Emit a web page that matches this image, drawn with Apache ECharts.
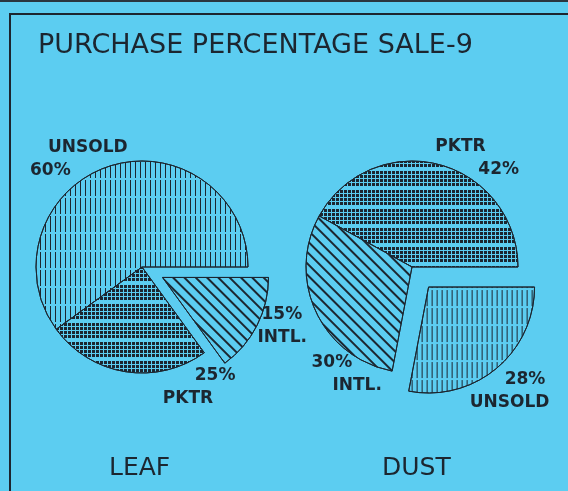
<!DOCTYPE html>
<html>
<head>
<meta charset="utf-8">
<script src="https://cdn.jsdelivr.net/npm/echarts@6/dist/echarts.min.js"></script>
<style>
  html, body { margin: 0; padding: 0; background: #5ccdf1; }
  #main { width: 568px; height: 491px; }
</style>
</head>
<body>
<div id="main"></div>
<script>
// data
var leafNames = ['UNSOLD', 'PKTR', 'INTL.'];
var leafValues = [60, 25, 15];
var dustNames = ['PKTR', 'INTL.', 'UNSOLD'];
var dustValues = [42, 30, 28];
var pieTitles = ['LEAF', 'DUST'];

var bg = '#5ccdf1';
var ink = '#1c2630';

// hatch pattern per category
var hatch = {
  'UNSOLD': { symbol: 'rect', symbolSize: 1, color: ink, dashArrayX: [1, 4], dashArrayY: [16, 2] },
  'PKTR': { symbol: 'rect', symbolSize: 1, color: ink, dashArrayX: [3, 1], dashArrayY: [3, 1, 3, 1, 3, 1, 3, 4] },
  'INTL.': { symbol: 'rect', symbolSize: 1, color: ink, dashArrayX: [1, 0], dashArrayY: [2, 6], rotation: Math.PI / 4 }
};

// label placement: [dx, dy, indent of line 1, indent of line 2], same order as the data
var leafLabelPos = [[-69, -3, 18, 0], [47, 11, 32, 0], [-12, -1, 4, 0]];
var dustLabelPos = [[-13, -2, 0, 43], [8, 60, 0, 21], [-38, 19, 35, 0]];

var labelFont = { color: ink, fontFamily: 'DejaVu Sans', fontWeight: 'bold', fontSize: 17, lineHeight: 23 };

function buildData(names, values, exploded) {
  return names.map(function (n, i) {
    return {
      name: n,
      value: values[i],
      selected: n === exploded,
      itemStyle: { color: bg, decal: hatch[n] }
    };
  });
}

function buildRich(pos) {
  var rich = {};
  pos.forEach(function (p, i) {
    rich['a' + i] = Object.assign({ padding: [0, 0, 0, p[2]] }, labelFont);
    rich['b' + i] = Object.assign({ padding: [0, 0, 0, p[3]] }, labelFont);
  });
  return rich;
}

function labelText(p) {
  var i = p.dataIndex;
  var l1 = i === 0 ? p.name : p.value + '%';
  var l2 = i === 0 ? p.value + '%' : p.name;
  return '{a' + i + '|' + l1 + '}\n{b' + i + '|' + l2 + '}';
}

function placer(pos) {
  return function (p) {
    var d = pos[p.dataIndex];
    return { dx: d[0], dy: d[1], align: 'left' };
  };
}

var chart = echarts.init(document.getElementById('main'));

var pieBase = {
  type: 'pie',
  radius: 106,
  startAngle: 0,
  clockwise: false,
  selectedMode: 'multiple',
  avoidLabelOverlap: false,
  emphasis: { disabled: true },
  itemStyle: { borderColor: ink, borderWidth: 1 },
  labelLine: { show: false, length: 4, length2: 4 }
};

var option = {
  backgroundColor: bg,
  animation: false,
  title: [
    {
      text: 'PURCHASE PERCENTAGE SALE-9',
      left: 33, top: 27,
      textStyle: { color: ink, fontFamily: 'DejaVu Sans', fontWeight: 'normal', fontSize: 27 }
    },
    {
      text: pieTitles[0],
      left: 104, top: 451,
      textStyle: { color: ink, fontFamily: 'DejaVu Sans', fontWeight: 'normal', fontSize: 25 }
    },
    {
      text: pieTitles[1],
      left: 377, top: 451,
      textStyle: { color: ink, fontFamily: 'DejaVu Sans', fontWeight: 'normal', fontSize: 25 }
    }
  ],
  graphic: [
    { type: 'rect', shape: { x: 0, y: 0, width: 568, height: 2 }, style: { fill: '#2a3640' } },
    { type: 'polyline', shape: { points: [[10, 491], [10, 14], [568, 14]] }, style: { stroke: ink, lineWidth: 2, fill: null } }
  ],
  series: [
    Object.assign({}, pieBase, {
      name: 'LEAF',
      center: [142, 267],
      selectedOffset: 23,
      label: Object.assign({ position: 'outside', formatter: labelText, rich: buildRich(leafLabelPos) }, labelFont),
      labelLayout: placer(leafLabelPos),
      data: buildData(leafNames, leafValues, 'INTL.')
    }),
    Object.assign({}, pieBase, {
      name: 'DUST',
      center: [412, 267],
      selectedOffset: 26,
      label: Object.assign({ position: 'outside', formatter: labelText, rich: buildRich(dustLabelPos) }, labelFont),
      labelLayout: placer(dustLabelPos),
      data: buildData(dustNames, dustValues, 'UNSOLD')
    })
  ]
};

chart.setOption(option);
</script>
</body>
</html>
